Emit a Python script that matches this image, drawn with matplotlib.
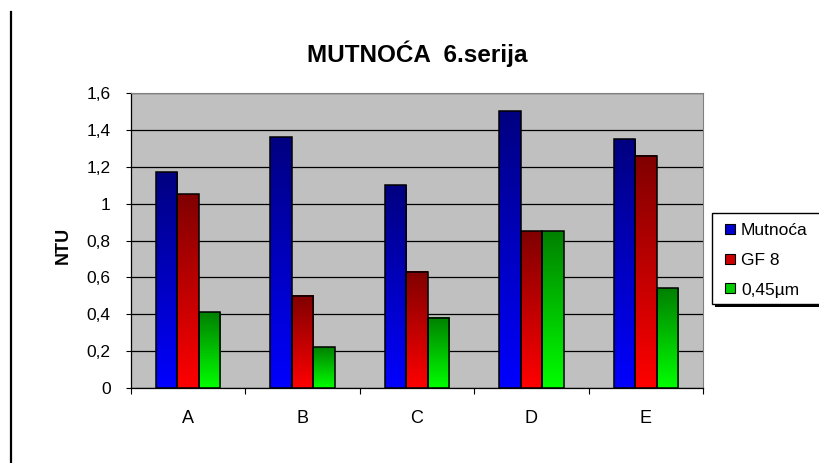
import matplotlib
matplotlib.use("Agg")
import matplotlib.pyplot as plt
import numpy as np
from matplotlib.colors import LinearSegmentedColormap
from matplotlib.lines import Line2D
from matplotlib.patches import Rectangle

plt.rcParams['font.family'] = ['Liberation Sans', 'DejaVu Sans']

# podaci
uzorci = ['A', 'B', 'C', 'D', 'E']
mutnoca = [1.17, 1.36, 1.10, 1.50, 1.35]
gf8 = [1.05, 0.50, 0.63, 0.85, 1.26]
filter045 = [0.41, 0.22, 0.38, 0.85, 0.54]
serije = ['Mutnoća', 'GF 8', '0,45µm']
yticks = [0, 0.2, 0.4, 0.6, 0.8, 1, 1.2, 1.4, 1.6]
ytick_labels = ['0', '0,2', '0,4', '0,6', '0,8', '1', '1,2', '1,4', '1,6']

# gradijent: tamno gore, svijetlo dolje
boje = [('#000080', '#0000ff'), ('#800000', '#ff0000'), ('#008000', '#00ff00')]
legenda_boje = ['#0000cc', '#cc0000', '#00cc00']

fig = plt.figure(figsize=(8.2, 4.63), dpi=100)
fig.patch.set_facecolor('white')
ax = fig.add_axes([131/820, 1-388/463, 572/820, 295/463])
ax.set_facecolor('#c0c0c0')

x = np.arange(len(uzorci))
w = 0.188
grad = np.linspace(1, 0, 256).reshape(-1, 1)
for i, (vals, (dark, light)) in enumerate(zip([mutnoca, gf8, filter045], boje)):
    cmap = LinearSegmentedColormap.from_list('g%d' % i, [light, dark])
    bars = ax.bar(x + (i - 1) * w, vals, w, facecolor='none',
                  edgecolor='black', linewidth=1.1, zorder=4)
    for b in bars:
        x0, h, bw = b.get_x(), b.get_height(), b.get_width()
        ax.imshow(grad, cmap=cmap, aspect='auto', extent=(x0, x0 + bw, 0, h),
                  zorder=3, interpolation='bilinear')

ax.set_xlim(-0.5, 4.5)
ax.set_ylim(0, 1.6)
ax.set_yticks(yticks)
ax.set_yticklabels(ytick_labels)
ax.yaxis.grid(True, color='black', linewidth=0.9)
ax.set_axisbelow(True)

ax.set_xticks(np.arange(-0.5, 5, 1))
ax.set_xticklabels([])
ax.set_xticks(x, minor=True)
ax.set_xticklabels(uzorci, minor=True)
ax.tick_params(axis='x', which='major', length=4, width=0.8, direction='out')
ax.tick_params(axis='x', which='minor', length=0, pad=16, labelsize=13)
ax.tick_params(axis='y', length=3.5, width=0.8, pad=11, labelsize=12.5)

for s in ['top', 'right']:
    ax.spines[s].set_color('#808080')
for s in ['left', 'bottom']:
    ax.spines[s].set_color('black')
    ax.spines[s].set_linewidth(0.9)

fig.text(417/820, 1-62/463, 'MUTNOĆA  6.serija', ha='center', va='baseline',
         fontsize=17.5, fontweight='bold')
fig.text(63/820, 1-245/463, 'NTU', rotation=90, ha='center', va='center',
         fontsize=13, fontweight='bold')

# okomita crta lijevo
fig.add_artist(Line2D([11/820, 11/820], [0, 1-12/463], color='black',
                      linewidth=1.6, transform=fig.transFigure))

# okvir legende sa sjenom (desni rub izlazi iz slike)
fig.add_artist(Rectangle((715/820, 1-307/463), 130/820, 91/463, facecolor='black',
                         edgecolor='none', transform=fig.transFigure, zorder=5))
fig.add_artist(Rectangle((712/820, 1-304/463), 130/820, 91/463, facecolor='white',
                         edgecolor='black', linewidth=1.0, transform=fig.transFigure,
                         zorder=6))

handles = [Line2D([], [], marker='s', linestyle='none', markersize=7,
                  markerfacecolor=c, markeredgecolor='black', markeredgewidth=0.8)
           for c in legenda_boje]
leg = fig.legend(handles, serije, loc='upper left',
                 bbox_to_anchor=(714/820, 1-213/463), bbox_transform=fig.transFigure,
                 borderaxespad=0, fontsize=12.5, frameon=False, handlelength=0.7,
                 handletextpad=0.3, labelspacing=0.85, borderpad=0.55)
leg.set_zorder(7)

fig.savefig('out.png', dpi=100)
